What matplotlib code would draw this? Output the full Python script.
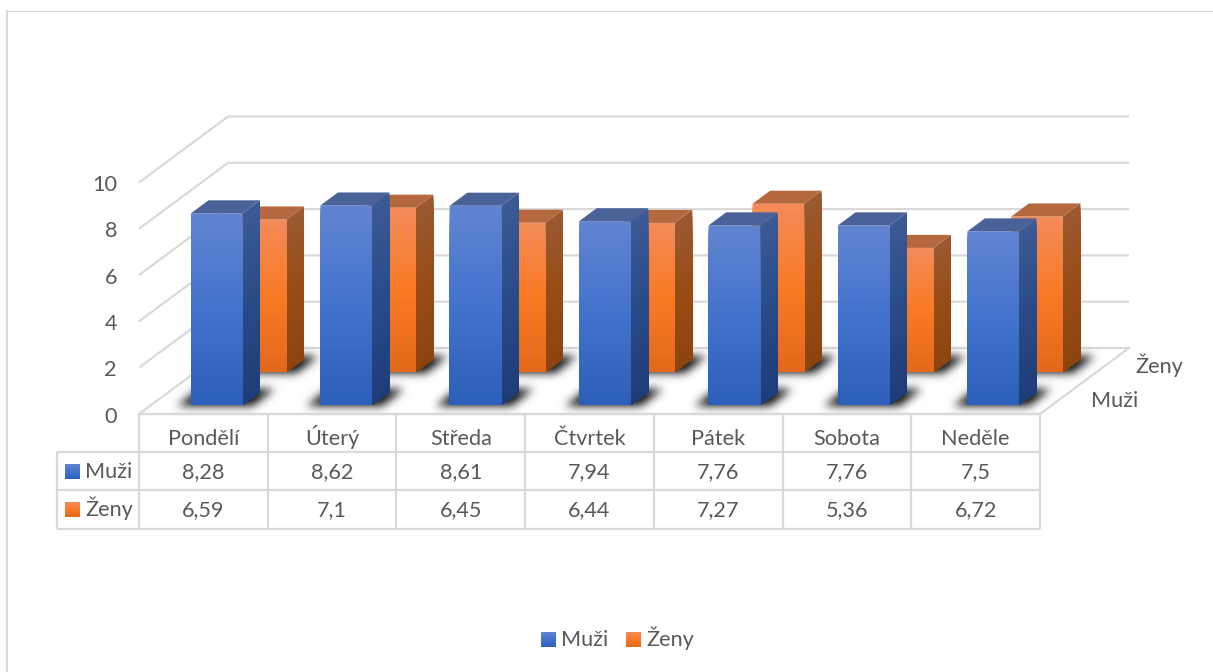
"""
3D sloupcovy graf: Muzi / Zeny podle dne v tydnu, s datovou tabulkou
"""

import numpy as np
from matplotlib import pyplot as plt
from matplotlib.collections import PolyCollection
from matplotlib.patches import Polygon
from matplotlib.path import Path

days = ["Pondělí", "Úterý", "Středa", "Čtvrtek", "Pátek", "Sobota", "Neděle"]
muzi = [8.28, 8.62, 8.61, 7.94, 7.76, 7.76, 7.5]
zeny = [6.59, 7.1, 6.45, 6.44, 7.27, 5.36, 6.72]
muzi_labels = ["8,28", "8,62", "8,61", "7,94", "7,76", "7,76", "7,5"]
zeny_labels = ["6,59", "7,1", "6,45", "6,44", "7,27", "5,36", "6,72"]
y_ticks = [0, 2, 4, 6, 8, 10]

W, H = 1213, 672
GRID = "#d9d9d9"
TEXT = "#595959"
FONT = ["Lato", "DejaVu Sans"]
FS = 15.6

# layout of the fake 3D box, in pixels
X0, Y0 = 139, 414
CAT_PX = 129.4
UNIT_PX = 23.15
BOX_DX, BOX_DY = 89, 66
BAR_GAP = 52 / CAT_PX
BAR_W = 51.5 / CAT_PX

# colours: top, middle, bottom of each face
BLUE = dict(front=[(98, 132, 208), (66, 114, 205), (44, 95, 185)],
            side=[(60, 90, 150), (40, 75, 135), (30, 60, 120)],
            top="#4a6298")
ORANGE = dict(front=[(244, 139, 90), (248, 122, 36), (226, 104, 26)],
              side=[(154, 90, 50), (152, 76, 22), (140, 68, 14)],
              top="#b5683e")

plt.rcParams['font.family'] = FONT
fig = plt.figure(figsize=(W / 100, H / 100), dpi=100)
fig.patch.set_facecolor("white")

# ax: x in categories, y in values. ax_px: plain pixels for the table and frame
ax = fig.add_axes([0, 0, 1, 1])
ax.set_xlim(-X0 / CAT_PX, (W - X0) / CAT_PX)
ax.set_ylim((Y0 - H) / UNIT_PX, Y0 / UNIT_PX)
ax.axis("off")
xlim, ylim = ax.get_xlim(), ax.get_ylim()

ax_px = fig.add_axes([0, 0, 1, 1], zorder=3)
ax_px.set_xlim(0, W)
ax_px.set_ylim(H, 0)
ax_px.axis("off")
ax_px.patch.set_alpha(0)


def to_px(x, v):
    return X0 + x * CAT_PX, Y0 - v * UNIT_PX


def shear(x, v, dx_px, dy_px):
    # shift a data point by a number of pixels (dy_px goes upwards)
    return x + dx_px / CAT_PX, v + dy_px / UNIT_PX


def ramp(stops, n):
    # n colours from top to bottom
    stops = np.array(stops, dtype=float) / 255
    pos = np.linspace(0, 1, len(stops))
    t = (np.arange(n) + 0.5) / n
    return np.column_stack([np.interp(t, pos, stops[:, c]) for c in range(3)])


def bands(target, low, high, stops, zorder, n=60):
    # low and high are the bottom and top edge of the face.
    # every slice reaches down to the bottom edge and is painted over the one before,
    # so no white seams show between the slices
    low_l, low_r = np.array(low[0]), np.array(low[1])
    high_l, high_r = np.array(high[0]), np.array(high[1])
    polys = []
    for k in range(n):
        a = k / n
        polys.append([high_l + (low_l - high_l) * a, high_r + (low_r - high_r) * a, low_r, low_l])
    coll = PolyCollection(polys, facecolors=ramp(stops, n), edgecolors="none", linewidths=0, zorder=zorder)
    coll.set_snap(False)
    target.add_collection(coll)


def draw_bar(left, value, base_dx, base_dy, style, zorder):
    right = left + BAR_W
    # base of the bar sits on the floor
    p = [shear(left, 0, base_dx, base_dy), shear(right, 0, base_dx, base_dy)]
    t = [shear(left, value, base_dx, base_dy), shear(right, value, base_dx, base_dy)]
    d = (17.5, 13)
    bands(ax, (p[1], shear(*p[1], *d)), (t[1], shear(*t[1], *d)), style["side"], zorder)
    bands(ax, (p[0], p[1]), (t[0], t[1]), style["front"], zorder + 0.1)
    top = [t[0], t[1], shear(*t[1], *d), shear(*t[0], *d)]
    ax.add_patch(Polygon(top, closed=True, facecolor=style["top"], edgecolor="none", zorder=zorder + 0.2))


def blur(a, sigma):
    r = int(3 * sigma)
    k = np.exp(-0.5 * (np.arange(-r, r + 1) / sigma) ** 2)
    k /= k.sum()
    a = np.apply_along_axis(lambda m: np.convolve(m, k, mode="same"), 0, a)
    a = np.apply_along_axis(lambda m: np.convolve(m, k, mode="same"), 1, a)
    return a


def shadow_layer():
    yy, xx = np.mgrid[0:H, 0:W]
    grid = np.column_stack([xx.ravel() + 0.5, yy.ravel() + 0.5])
    mask = np.zeros((H, W))
    for i in range(len(days)):
        for dx, dy in [(0, 9), (44, 42)]:
            lx, ly = to_px(i + BAR_GAP, 0)
            lx, ly = lx + dx, ly - dy
            w = BAR_W * CAT_PX
            # shadow falls slightly past the footprint of the bar
            poly = Path([(lx - 14, ly + 1), (lx + w + 10, ly + 1), (lx + w + 32, ly - 16), (lx + 8, ly - 16)])
            mask[poly.contains_points(grid).reshape(H, W)] = 1
    alpha = np.clip(blur(mask, 4.5) * 1.2, 0, 1)
    rgba = np.zeros((H, W, 4))
    rgba[..., :3] = 0.2
    rgba[..., 3] = alpha
    return rgba


# walls and floor
for v in y_ticks:
    xs = [0, BOX_DX / CAT_PX, (1040 - X0 + BOX_DX) / CAT_PX]
    ys = [v, v + BOX_DY / UNIT_PX, v + BOX_DY / UNIT_PX]
    ax.plot(xs, ys, color=GRID, lw=1.6, zorder=1, solid_capstyle="butt")
ax.plot([0, (1040 - X0) / CAT_PX, (1040 - X0 + BOX_DX) / CAT_PX],
        [0, 0, BOX_DY / UNIT_PX], color=GRID, lw=1.6, zorder=1)

ax.imshow(shadow_layer(), extent=(xlim[0], xlim[1], ylim[0], ylim[1]), aspect="auto", origin="upper", zorder=2)

for i, value in enumerate(zeny):
    draw_bar(i + BAR_GAP, value, 44, 42, ORANGE, 3 + i * 0.5)
for i, value in enumerate(muzi):
    draw_bar(i + BAR_GAP, value, 0, 9, BLUE, 8 + i * 0.5)

ax.set_xlim(xlim)
ax.set_ylim(ylim)

# value axis labels
for v in y_ticks:
    ax.text(-22 / CAT_PX, v - 8.7 / UNIT_PX, str(v), ha="right", va="baseline", fontsize=FS, color=TEXT)

# depth axis labels
ax_px.text(1135, 373, "Ženy", ha="left", va="baseline", fontsize=FS, color=TEXT)
ax_px.text(1091, 407, "Muži", ha="left", va="baseline", fontsize=FS, color=TEXT)

# data table
col_x = np.linspace(139, 1040, len(days) + 1)
row_y = [414, 452, 490, 528.5]
row_base = [445, 478, 516.5]
TABLE_LEFT = 57
for x in col_x:
    ax_px.plot([x, x], [row_y[0], row_y[-1]], color=GRID, lw=1.6, solid_capstyle="butt")
ax_px.plot([TABLE_LEFT, TABLE_LEFT], [row_y[1], row_y[-1]], color=GRID, lw=1.6, solid_capstyle="butt")
for k, y in enumerate(row_y):
    left = TABLE_LEFT if k > 0 else col_x[0]
    ax_px.plot([left, col_x[-1]], [y, y], color=GRID, lw=1.6, solid_capstyle="butt")

centers = (col_x[:-1] + col_x[1:]) / 2
for base, rows in zip(row_base, [days, muzi_labels, zeny_labels]):
    for x, label in zip(centers, rows):
        ax_px.text(x, base, label, ha="center", va="baseline", fontsize=FS, color=TEXT)


def swatch(x, y, size, stops):
    low = ((x, y + size), (x + size, y + size))
    high = ((x, y), (x + size, y))
    bands(ax_px, low, high, stops, 3, n=15)


swatch(65, 464, 15, BLUE["front"])
swatch(65, 502, 15, ORANGE["front"])
ax_px.text(85, row_base[1], "Muži", ha="left", va="baseline", fontsize=FS, color=TEXT)
ax_px.text(85, row_base[2], "Ženy", ha="left", va="baseline", fontsize=FS, color=TEXT)

# legend
swatch(541, 632, 15, BLUE["front"])
swatch(626, 632, 15, ORANGE["front"])
ax_px.text(561, 646, "Muži", ha="left", va="baseline", fontsize=FS, color=TEXT)
ax_px.text(646, 646, "Ženy", ha="left", va="baseline", fontsize=FS, color=TEXT)

# chart frame
ax_px.plot([7, 7], [H, 10], color=GRID, lw=1.5, solid_capstyle="butt")
ax_px.plot([6, W], [10.5, 10.5], color=GRID, lw=0.8)

ax_px.set_xlim(0, W)
ax_px.set_ylim(H, 0)

fig.savefig("out.png", dpi=100)
